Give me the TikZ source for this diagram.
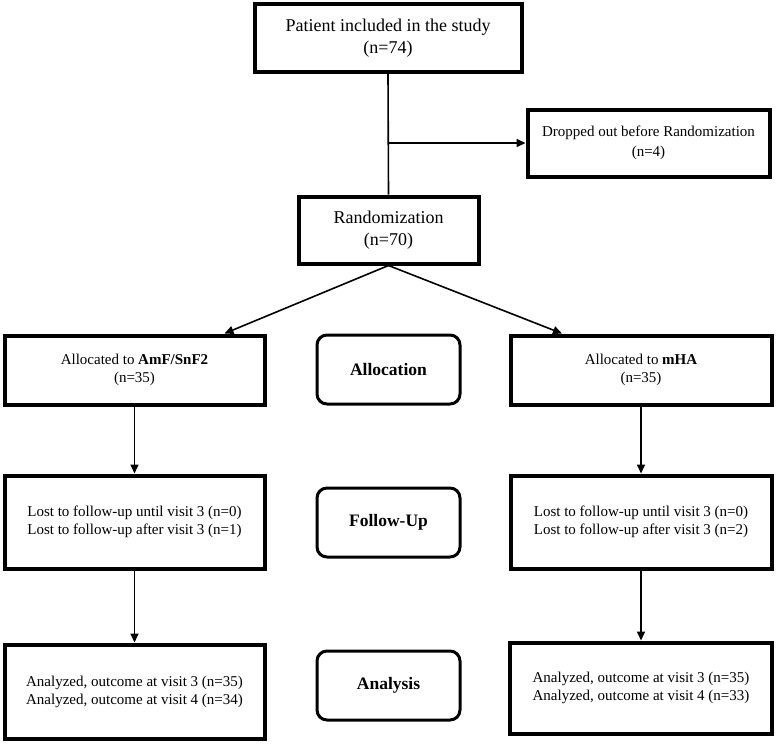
\documentclass[tikz,border=0pt]{standalone}
\usepackage{fontspec}
\setmainfont{Liberation Serif}
\usetikzlibrary{arrows.meta}

\tikzset{
box/.style={draw, line width=4pt, rectangle, inner sep=0pt, align=center},
stage/.style={draw, line width=3pt, rounded corners=10pt, inner sep=0pt, minimum width=143pt, minimum height=69pt, font=\bfseries\fontsize{17.5}{20}\selectfont},
flow/.style={-{Triangle[length=9pt,width=8pt]}, line width=1.6pt}
}

\begin{document}
\begin{tikzpicture}[x=1pt,y=-1pt]
\useasboundingbox (0,0) rectangle (776,744);

% Enrolment
\node[box, minimum width=267pt, minimum height=68pt, font=\fontsize{18}{22}\selectfont] (included) at (388,38) {Patient included in the study\\(n=74)};
\node[box, minimum width=242pt, minimum height=67pt, font=\fontsize{15}{20}\selectfont] (dropped) at (648.5,143) {Dropped out before Randomization\\(n=4)};
\node[box, minimum width=180pt, minimum height=67pt, font=\fontsize{18}{22}\selectfont] (random) at (388.5,230) {Randomization\\(n=70)};

\coordinate (split) at (included.south |- dropped.west);
\draw[line width=1.6pt] (included.south) -- (random.north);
\draw[flow] (split) -- (dropped.west);


% Allocation
\node[box, minimum width=260pt, minimum height=69pt, font=\fontsize{15}{18}\selectfont] (allocAmF) at (134.5,370) {Allocated to \textbf{AmF/SnF2}\\(n=35)};
\node[box, minimum width=261pt, minimum height=69pt, font=\fontsize{15}{18}\selectfont] (allocmHA) at (641,370) {Allocated to \textbf{mHA}\\(n=35)};
\node[stage] (allocation) at (388.5,369.5) {Allocation};

\coordinate (inAmF) at ([xshift=90pt]allocAmF.north);
\coordinate (inmHA) at ([xshift=-79pt]allocmHA.north);
\draw[flow] (random.south) -- (inAmF);
\draw[flow] (random.south) -- (inmHA);


% Follow-Up
\node[box, minimum width=260pt, minimum height=93pt, font=\fontsize{15}{17.5}\selectfont] (lostAmF) at (134.5,522) {Lost to follow-up until visit 3 (n=0)\\Lost to follow-up after visit 3 (n=1)};
\node[box, minimum width=261pt, minimum height=93pt, font=\fontsize{15}{17.5}\selectfont] (lostmHA) at (641,522) {Lost to follow-up until visit 3 (n=0)\\Lost to follow-up after visit 3 (n=2)};
\node[stage] (followup) at (388.5,522.5) {Follow-Up};

\draw[flow] (allocAmF.south) -- (lostAmF.north);
\draw[flow] (allocmHA.south) -- (lostmHA.north);


% Analysis
\node[box, minimum width=260pt, minimum height=94pt, font=\fontsize{15}{18}\selectfont] (anAmF) at (134.5,691.5) {Analyzed, outcome at visit 3 (n=35)\\Analyzed, outcome at visit 4 (n=34)};
\node[box, minimum width=262pt, minimum height=91pt, font=\fontsize{15}{18}\selectfont] (anmHA) at (641,688) {Analyzed, outcome at visit 3 (n=35)\\Analyzed, outcome at visit 4 (n=33)};
\node[stage] (analysis) at (388.5,685.5) {Analysis};

\draw[flow] (lostAmF.south) -- (anAmF.north);
\draw[flow] (lostmHA.south) -- (anmHA.north);
\end{tikzpicture}
\end{document}
